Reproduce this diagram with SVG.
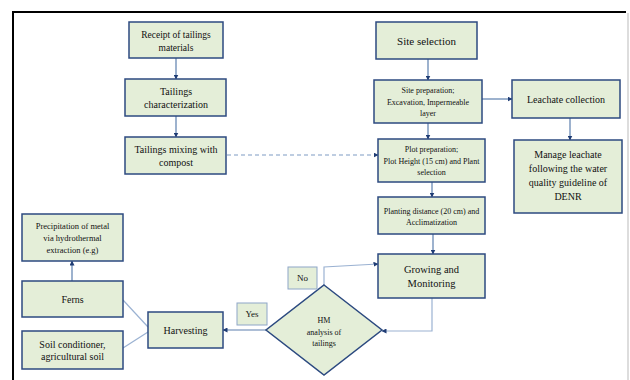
<svg xmlns="http://www.w3.org/2000/svg" width="630" height="380" viewBox="0 0 630 380">
<defs>
<marker id="ah" viewBox="0 0 10 10" refX="9" refY="5" markerWidth="5" markerHeight="5" orient="auto" markerUnits="userSpaceOnUse">
<path d="M0,0 L10,5 L0,10 z" fill="#1f3c74"/>
</marker>
<style>
.box{fill:#e4eed8;stroke:#2c4a80;stroke-width:1.5}
.lbl{fill:#e4eed8;stroke:#8ea6c8;stroke-width:1}
.t{fill:#111;text-anchor:middle}
.c{fill:none;stroke:#5c7fae;stroke-width:1.2}
.d{fill:none;stroke:#7f9cc4;stroke-width:1.2;stroke-dasharray:4 3}
.f{fill:none;stroke:#9bb2d2;stroke-width:1.2}
</style>
</defs>
<rect width="630" height="380" fill="#fff"/>
<g id="frame">
<line x1="12" y1="12" x2="626" y2="12" stroke="#000" stroke-width="2"/>
<line x1="13" y1="11" x2="13" y2="380" stroke="#000" stroke-width="2"/>
<line x1="628" y1="13" x2="628" y2="380" stroke="#bbb" stroke-width="1"/>
</g>
<g id="connectors">
<line class="c" x1="176" y1="58" x2="176" y2="79" marker-end="url(#ah)"/>
<line class="c" x1="176" y1="116" x2="176" y2="137" marker-end="url(#ah)"/>
<line class="d" x1="227" y1="155" x2="378" y2="155" marker-end="url(#ah)"/>
<line class="c" x1="428" y1="59" x2="428" y2="80" marker-end="url(#ah)"/>
<line class="c" x1="482" y1="99" x2="512" y2="99" marker-end="url(#ah)"/>
<line class="c" x1="570" y1="118" x2="570" y2="140" marker-end="url(#ah)"/>
<line class="c" x1="428" y1="123" x2="428" y2="139" marker-end="url(#ah)"/>
<line class="c" x1="432" y1="182" x2="432" y2="197" marker-end="url(#ah)"/>
<line class="c" x1="433" y1="234" x2="433" y2="254" marker-end="url(#ah)"/>
<polyline class="f" points="432,298 432,331 382,331" marker-end="url(#ah)"/>
<polyline class="f" points="324,285 324,267 378,264" marker-end="url(#ah)"/>
<line class="c" x1="266" y1="330" x2="223" y2="330" marker-end="url(#ah)"/>
<line class="f" x1="148" y1="327" x2="123" y2="300"/>
<line class="f" x1="148" y1="332" x2="123" y2="348"/>
<line class="c" x1="72" y1="281" x2="72" y2="261" marker-end="url(#ah)"/>
</g>
<g font-family="'Liberation Serif', 'Times New Roman', serif">
<g id="receipt">
<rect class="box" x="129" y="22" width="94" height="36"/>
<text class="t" font-size="9.5" x="176" y="38">Receipt of tailings</text>
<text class="t" font-size="9.5" x="176" y="51">materials</text>
</g>
<g id="characterization">
<rect class="box" x="125" y="79" width="101" height="37"/>
<text class="t" font-size="10" x="176" y="95">Tailings</text>
<text class="t" font-size="10" x="176" y="108">characterization</text>
</g>
<g id="mixing">
<rect class="box" x="125" y="137" width="101" height="37"/>
<text class="t" font-size="10" x="176" y="153">Tailings mixing with</text>
<text class="t" font-size="10" x="176" y="166">compost</text>
</g>
<g id="site-selection">
<rect class="box" x="376" y="22" width="101" height="37"/>
<text class="t" font-size="11" x="426.5" y="45">Site selection</text>
</g>
<g id="site-preparation">
<rect class="box" x="374" y="80" width="108" height="43"/>
<text class="t" font-size="8" x="428" y="93">Site preparation;</text>
<text class="t" font-size="8" x="428" y="105">Excavation, Impermeable</text>
<text class="t" font-size="8" x="428" y="116">layer</text>
</g>
<g id="leachate-collection">
<rect class="box" x="512" y="80" width="108" height="38"/>
<text class="t" font-size="10" x="566" y="103">Leachate collection</text>
</g>
<g id="manage-leachate">
<rect class="box" x="514" y="140" width="108" height="73"/>
<text class="t" font-size="10" x="568" y="158">Manage leachate</text>
<text class="t" font-size="10" x="568" y="172">following the water</text>
<text class="t" font-size="10" x="568" y="186">quality guideline of</text>
<text class="t" font-size="10" x="568" y="200">DENR</text>
</g>
<g id="plot-preparation">
<rect class="box" x="378" y="139" width="107" height="43"/>
<text class="t" font-size="8" x="431.5" y="152">Plot preparation;</text>
<text class="t" font-size="8" x="431.5" y="164">Plot Height (15 cm) and Plant</text>
<text class="t" font-size="8" x="431.5" y="175">selection</text>
</g>
<g id="planting-distance">
<rect class="box" x="378" y="197" width="107" height="37"/>
<text class="t" font-size="8" x="431.5" y="214">Planting distance (20 cm) and</text>
<text class="t" font-size="8" x="431.5" y="225">Acclimatization</text>
</g>
<g id="growing">
<rect class="box" x="378" y="254" width="107" height="44"/>
<text class="t" font-size="10.5" x="431.5" y="273">Growing and</text>
<text class="t" font-size="10.5" x="431.5" y="287">Monitoring</text>
</g>
<g id="hm-analysis">
<polygon class="box" points="324,285 382,330 324,375 266,330"/>
<text class="t" font-size="8" x="324" y="323">HM</text>
<text class="t" font-size="8" x="324" y="335">analysis of</text>
<text class="t" font-size="8" x="324" y="346">tailings</text>
</g>
<g id="no-label">
<rect class="lbl" x="288" y="267" width="29" height="22"/>
<text class="t" font-size="9" x="302.5" y="281">No</text>
</g>
<g id="yes-label">
<rect class="lbl" x="237" y="303" width="30" height="22"/>
<text class="t" font-size="9" x="252" y="317">Yes</text>
</g>
<g id="harvesting">
<rect class="box" x="148" y="312" width="75" height="36"/>
<text class="t" font-size="10" x="185.5" y="334">Harvesting</text>
</g>
<g id="ferns">
<rect class="box" x="22" y="281" width="101" height="36"/>
<text class="t" font-size="10" x="72.5" y="303">Ferns</text>
</g>
<g id="soil-conditioner">
<rect class="box" x="22" y="331" width="101" height="38"/>
<text class="t" font-size="10" x="72.5" y="348">Soil conditioner,</text>
<text class="t" font-size="10" x="72.5" y="360">agricultural soil</text>
</g>
<g id="precipitation">
<rect class="box" x="22" y="214" width="101" height="47"/>
<text class="t" font-size="8.5" x="72.5" y="229">Precipitation  of metal</text>
<text class="t" font-size="8.5" x="72.5" y="241">via hydrothermal</text>
<text class="t" font-size="8.5" x="72.5" y="253">extraction  (e.g)</text>
</g>
</g>
</svg>
